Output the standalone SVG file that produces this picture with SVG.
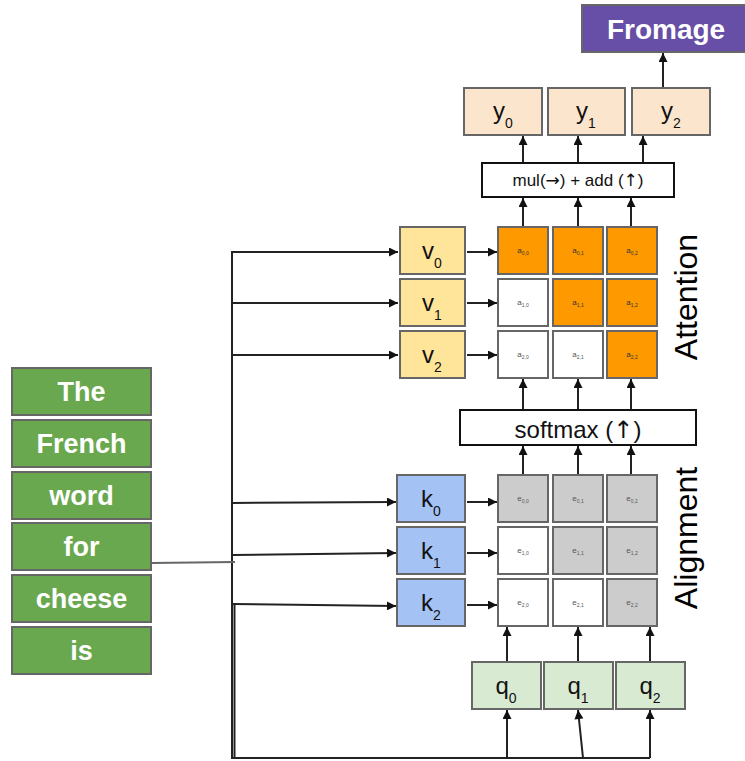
<svg xmlns="http://www.w3.org/2000/svg" width="745" height="761" viewBox="0 0 745 761">
<style>
text{font-family:"Liberation Sans",Arial,sans-serif;}
.ar{font-family:"DejaVu Sans",sans-serif;}
.box{stroke:#666;stroke-width:2;}
.word{fill:#6aa84f;}
.wt{fill:#fff;font-weight:bold;font-size:27px;text-anchor:middle;}
.v{fill:#ffe599;}
.k{fill:#a4c2f4;}
.q{fill:#d9ead3;}
.y{fill:#fce5cd;}
.on{fill:#ff9900;}
.gr{fill:#cccccc;}
.off{fill:#ffffff;}
.lbl{font-size:24px;text-anchor:middle;fill:#111;}
.sub{font-size:14px;}
.cl{font-size:8px;text-anchor:middle;fill:#333;}
.cld{font-size:8px;text-anchor:middle;fill:#555;}
.cs{font-size:5px;}
.op{fill:#fff;stroke:#111;stroke-width:2;}
.big{font-size:32px;text-anchor:middle;fill:#000;}
.c line,.c polyline{stroke:#222;stroke-width:2;fill:none;}
.c .a{marker-end:url(#ah);}
</style>
<defs>
<marker id="ah" viewBox="0 0 10 10" refX="10" refY="5" markerWidth="11" markerHeight="9" markerUnits="userSpaceOnUse" orient="auto">
<path d="M0,0 L10,5 L0,10 z" fill="#111"/>
</marker>
</defs>

<g id="connectors" class="c">
<line class="a" x1="663" y1="88" x2="663" y2="53"/>
<line class="a" x1="523" y1="163" x2="523" y2="136"/>
<line class="a" x1="578" y1="163" x2="578" y2="136"/>
<line class="a" x1="643" y1="163" x2="643" y2="136"/>
<line class="a" x1="523" y1="227" x2="523" y2="198"/>
<line class="a" x1="578" y1="227" x2="578" y2="198"/>
<line class="a" x1="631" y1="227" x2="631" y2="198"/>
<line class="a" x1="523" y1="410" x2="523" y2="379"/>
<line class="a" x1="578" y1="410" x2="578" y2="379"/>
<line class="a" x1="631" y1="410" x2="631" y2="379"/>
<line class="a" x1="523" y1="475" x2="523" y2="446"/>
<line class="a" x1="578" y1="475" x2="578" y2="446"/>
<line class="a" x1="631" y1="475" x2="631" y2="446"/>
<line class="a" x1="507" y1="662" x2="507" y2="627"/>
<line class="a" x1="578" y1="662" x2="578" y2="627"/>
<line class="a" x1="650" y1="662" x2="650" y2="627"/>
<polyline points="232,251 232,758 650,758"/>
<line x1="234.5" y1="603" x2="234.5" y2="758"/>
<line class="a" x1="507" y1="758" x2="507" y2="710"/>
<line class="a" x1="583" y1="758" x2="578" y2="710"/>
<line class="a" x1="650" y1="758" x2="650" y2="710"/>
<line class="a" x1="232" y1="252" x2="398" y2="252"/>
<line class="a" x1="232" y1="303" x2="398" y2="303"/>
<line class="a" x1="232" y1="355" x2="398" y2="355"/>
<line class="a" x1="232" y1="503" x2="396" y2="502"/>
<line class="a" x1="233" y1="555" x2="396" y2="553"/>
<line class="a" x1="232" y1="604" x2="396" y2="606"/>
<line class="a" x1="467" y1="252" x2="497" y2="252"/>
<line class="a" x1="467" y1="303" x2="497" y2="303"/>
<line class="a" x1="467" y1="355" x2="497" y2="355"/>
<line class="a" x1="467" y1="502" x2="497" y2="502"/>
<line class="a" x1="467" y1="553" x2="497" y2="553"/>
<line class="a" x1="467" y1="605" x2="497" y2="605"/>
<line x1="151" y1="563" x2="235" y2="562" style="stroke:#666"/>
</g>

<g id="word-the"><rect class="box word" x="12" y="368" width="139" height="47"/><text class="wt" x="81.5" y="401">The</text></g>
<g id="word-french"><rect class="box word" x="12" y="420" width="139" height="47"/><text class="wt" x="81.5" y="453">French</text></g>
<g id="word-word"><rect class="box word" x="12" y="472" width="139" height="47"/><text class="wt" x="81.5" y="505">word</text></g>
<g id="word-for"><rect class="box word" x="12" y="523" width="139" height="47"/><text class="wt" x="81.5" y="556">for</text></g>
<g id="word-cheese"><rect class="box word" x="12" y="575" width="139" height="47"/><text class="wt" x="81.5" y="608">cheese</text></g>
<g id="word-is"><rect class="box word" x="12" y="627" width="139" height="47"/><text class="wt" x="81.5" y="660">is</text></g>

<g id="v0"><rect class="box v" x="400" y="227" width="65" height="47"/><text class="lbl" x="432" y="259">v<tspan class="sub" dy="9">0</tspan></text></g>
<g id="v1"><rect class="box v" x="400" y="279" width="65" height="47"/><text class="lbl" x="432" y="311">v<tspan class="sub" dy="9">1</tspan></text></g>
<g id="v2"><rect class="box v" x="400" y="331" width="65" height="47"/><text class="lbl" x="432" y="363">v<tspan class="sub" dy="9">2</tspan></text></g>

<g id="k0"><rect class="box k" x="397" y="475" width="68" height="47"/><text class="lbl" x="431" y="507">k<tspan class="sub" dy="9">0</tspan></text></g>
<g id="k1"><rect class="box k" x="397" y="527" width="68" height="47"/><text class="lbl" x="431" y="559">k<tspan class="sub" dy="9">1</tspan></text></g>
<g id="k2"><rect class="box k" x="397" y="579" width="68" height="47"/><text class="lbl" x="431" y="611">k<tspan class="sub" dy="9">2</tspan></text></g>

<g id="a00"><rect class="box on" x="498" y="227" width="50" height="47"/><text class="cl" x="523" y="253">a<tspan class="cs" dy="2">0,0</tspan></text></g>
<g id="a01"><rect class="box on" x="553" y="227" width="50" height="47"/><text class="cl" x="578" y="253">a<tspan class="cs" dy="2">0,1</tspan></text></g>
<g id="a02"><rect class="box on" x="607" y="227" width="50" height="47"/><text class="cl" x="632" y="253">a<tspan class="cs" dy="2">0,2</tspan></text></g>
<g id="a10"><rect class="box off" x="498" y="279" width="50" height="47"/><text class="cld" x="523" y="305">a<tspan class="cs" dy="2">1,0</tspan></text></g>
<g id="a11"><rect class="box on" x="553" y="279" width="50" height="47"/><text class="cl" x="578" y="305">a<tspan class="cs" dy="2">1,1</tspan></text></g>
<g id="a12"><rect class="box on" x="607" y="279" width="50" height="47"/><text class="cl" x="632" y="305">a<tspan class="cs" dy="2">1,2</tspan></text></g>
<g id="a20"><rect class="box off" x="498" y="331" width="50" height="47"/><text class="cld" x="523" y="357">a<tspan class="cs" dy="2">2,0</tspan></text></g>
<g id="a21"><rect class="box off" x="553" y="331" width="50" height="47"/><text class="cld" x="578" y="357">a<tspan class="cs" dy="2">2,1</tspan></text></g>
<g id="a22"><rect class="box on" x="607" y="331" width="50" height="47"/><text class="cl" x="632" y="357">a<tspan class="cs" dy="2">2,2</tspan></text></g>

<g id="e00"><rect class="box gr" x="498" y="475" width="50" height="47"/><text class="cld" x="523" y="501">e<tspan class="cs" dy="2">0,0</tspan></text></g>
<g id="e01"><rect class="box gr" x="553" y="475" width="50" height="47"/><text class="cld" x="578" y="501">e<tspan class="cs" dy="2">0,1</tspan></text></g>
<g id="e02"><rect class="box gr" x="607" y="475" width="50" height="47"/><text class="cld" x="632" y="501">e<tspan class="cs" dy="2">0,2</tspan></text></g>
<g id="e10"><rect class="box off" x="498" y="527" width="50" height="47"/><text class="cld" x="523" y="553">e<tspan class="cs" dy="2">1,0</tspan></text></g>
<g id="e11"><rect class="box gr" x="553" y="527" width="50" height="47"/><text class="cld" x="578" y="553">e<tspan class="cs" dy="2">1,1</tspan></text></g>
<g id="e12"><rect class="box gr" x="607" y="527" width="50" height="47"/><text class="cld" x="632" y="553">e<tspan class="cs" dy="2">1,2</tspan></text></g>
<g id="e20"><rect class="box off" x="498" y="579" width="50" height="47"/><text class="cld" x="523" y="605">e<tspan class="cs" dy="2">2,0</tspan></text></g>
<g id="e21"><rect class="box off" x="553" y="579" width="50" height="47"/><text class="cld" x="578" y="605">e<tspan class="cs" dy="2">2,1</tspan></text></g>
<g id="e22"><rect class="box gr" x="607" y="579" width="50" height="47"/><text class="cld" x="632" y="605">e<tspan class="cs" dy="2">2,2</tspan></text></g>

<g id="q0"><rect class="box q" x="472" y="662" width="69" height="47"/><text class="lbl" x="506" y="694">q<tspan class="sub" dy="9">0</tspan></text></g>
<g id="q1"><rect class="box q" x="544" y="662" width="69" height="47"/><text class="lbl" x="578" y="694">q<tspan class="sub" dy="9">1</tspan></text></g>
<g id="q2"><rect class="box q" x="616" y="662" width="69" height="47"/><text class="lbl" x="650" y="694">q<tspan class="sub" dy="9">2</tspan></text></g>

<g id="softmax"><rect class="op" x="460" y="410" width="236" height="35"/><text x="578" y="438" style="font-size:24px;text-anchor:middle;fill:#111">softmax (<tspan class="ar">↑</tspan>)</text></g>
<g id="mul-add"><rect class="op" x="482" y="163" width="192" height="34"/><text x="578" y="186" style="font-size:17px;text-anchor:middle;fill:#111">mul(<tspan class="ar">→</tspan>) + add (<tspan class="ar">↑</tspan>)</text></g>

<g id="y0"><rect class="box y" x="464" y="88" width="78" height="47"/><text class="lbl" x="503" y="119">y<tspan class="sub" dy="9">0</tspan></text></g>
<g id="y1"><rect class="box y" x="548" y="88" width="77" height="47"/><text class="lbl" x="586" y="119">y<tspan class="sub" dy="9">1</tspan></text></g>
<g id="y2"><rect class="box y" x="632" y="88" width="78" height="47"/><text class="lbl" x="671" y="119">y<tspan class="sub" dy="9">2</tspan></text></g>

<g id="fromage"><rect class="box" x="582" y="5" width="170" height="47" style="fill:#674ea7"/><text x="666" y="39" style="fill:#fff;font-weight:bold;font-size:28px;text-anchor:middle">Fromage</text></g>

<g id="label-attention"><text class="big" transform="translate(697,297) rotate(-90)">Attention</text></g>
<g id="label-alignment"><text class="big" transform="translate(697,538) rotate(-90)">Alignment</text></g>
</svg>
